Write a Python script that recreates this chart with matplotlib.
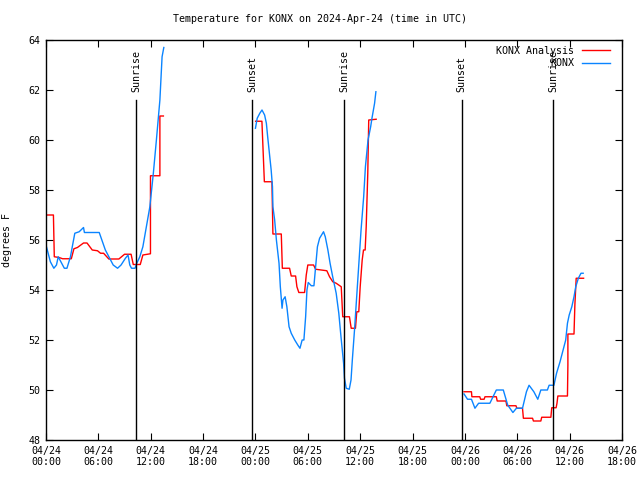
import numpy as np
import matplotlib
matplotlib.use('Agg')
from matplotlib import pyplot as plt

nan = np.nan

# hours since 2024-04-24 00:00 UTC
konx_hours = [0.0, 0.5, 0.9, 1.2, 1.4, 1.7, 2.1, 2.4, 2.8, 3.3, 3.8, 4.3, 4.4, 6.1, 6.5, 6.8,
              7.4, 7.7, 8.2, 8.6, 9.1, 9.4, 9.6, 9.8, 10.2, 10.4, 10.75, 11.1, 11.5, 11.9,
              12.3, 12.65, 13.05, 13.3, 13.5, nan,
              24.0, 24.2, 24.5, 24.75, 25.05, 25.25, 25.4, 25.6, 25.8, 25.95, 26.0, 26.2,
              26.4, 26.7, 26.85, 27.05, 27.15, 27.4, 27.6, 27.85, 28.1, 28.5, 28.85, 29.1,
              29.35, 29.55, 29.75, 29.9, 30.05, 30.4, 30.7, 30.9, 31.1, 31.35, 31.8, 32.0,
              32.3, 32.55, 32.85, 33.25, 33.55, 33.8, 34.1, 34.2, 34.4, 34.75, 34.95, 35.1,
              35.35, 35.6, 35.85, 36.1, 36.4, 36.6, 36.9, 37.2, 37.35, 37.65, 37.8, nan,
              47.9, 48.3, 48.75, 49.15, 49.57, 50.86, 51.6, 52.4, 52.9, 53.5, 53.9, 54.6,
              55.05, 55.35, 55.9, 56.35, 56.7, 57.45, 57.65, 58.2, 58.5, 58.9, 59.25, 59.55,
              59.75, 59.95, 60.25, 60.5, 60.7, 61.0, 61.3, 61.55]
konx_temp = [55.8, 55.13, 54.87, 55.0, 55.33, 55.13, 54.87, 54.87, 55.33, 56.27, 56.33, 56.5,
             56.3, 56.3, 55.9, 55.6, 55.2, 55.0, 54.87, 55.0, 55.27, 55.4, 55.0, 54.87, 54.87,
             55.07, 55.33, 55.73, 56.53, 57.33, 58.67, 60.0, 61.6, 63.33, 63.7, nan,
             60.47, 60.87, 61.07, 61.2, 61.0, 60.67, 60.13, 59.47, 58.8, 58.13, 57.33, 56.8,
             56.0, 55.07, 54.13, 53.27, 53.6, 53.73, 53.33, 52.53, 52.27, 52.0, 51.8, 51.67,
             52.0, 52.0, 52.93, 54.0, 54.3, 54.17, 54.17, 54.93, 55.73, 56.07, 56.33, 56.13,
             55.6, 55.07, 54.53, 53.87, 53.07, 52.13, 51.07, 50.47, 50.07, 50.03, 50.4, 51.2,
             52.4, 53.73, 55.07, 56.4, 57.73, 58.93, 60.0, 60.53, 60.87, 61.47, 61.93, nan,
             49.84, 49.63, 49.63, 49.27, 49.47, 49.47, 50.0, 50.0, 49.4, 49.1, 49.27, 49.27,
             49.93, 50.19, 49.93, 49.63, 50.0, 50.0, 50.19, 50.19, 50.67, 51.13, 51.6, 52.0,
             52.67, 53.0, 53.33, 53.73, 54.13, 54.47, 54.67, 54.67]

anl_hours = [0.0, 0.85, 0.95, 1.5, 1.9, 2.9, 3.2, 3.6, 4.3, 4.7, 5.3, 5.9, 6.25, 6.6, 7.2,
             8.35, 9.0, 9.75, 10.0, 10.8, 11.1, 11.97, 11.97, 13.05, 13.05, 13.45, nan,
             24.02, 24.74, 25.02, 25.89, 26.0, 26.96, 27.08, 27.91, 28.1, 28.6, 28.75, 28.97,
             29.63, 29.82, 30.0, 30.66, 30.89, 32.18, 32.49, 32.86, 33.25, 33.83, 34.0, 34.77,
             34.97, 35.46, 35.61, 35.84, 36.0, 36.23, 36.38, 36.57, 36.69, 36.87, 36.98, 37.83, nan,
             47.9, 48.75, 48.8, 49.7, 49.8, 50.2, 50.3, 51.6, 51.7, 52.7, 52.8, 53.85, 53.95,
             54.6, 54.7, 55.75, 55.85, 56.7, 56.8, 57.85, 57.95, 58.45, 58.55, 58.65, 59.75,
             59.8, 59.8, 60.5, 60.6, 60.75, 61.6]
anl_temp = [57.0, 57.0, 55.33, 55.3, 55.25, 55.25, 55.65, 55.7, 55.88, 55.88, 55.6, 55.57,
            55.47, 55.47, 55.24, 55.24, 55.43, 55.43, 55.02, 55.02, 55.4, 55.45, 58.57, 58.57,
            60.96, 60.96, nan,
            60.75, 60.75, 58.33, 58.33, 56.24, 56.24, 54.87, 54.87, 54.56, 54.56, 54.13, 53.9,
            53.9, 54.6, 55.0, 55.0, 54.83, 54.77, 54.53, 54.33, 54.27, 54.13, 52.93, 52.93,
            52.47, 52.47, 53.13, 53.13, 54.13, 55.2, 55.6, 55.6, 56.53, 58.67, 60.8, 60.83, nan,
            49.93, 49.93, 49.73, 49.73, 49.63, 49.63, 49.73, 49.73, 49.56, 49.56, 49.37, 49.37,
            49.27, 49.27, 48.87, 48.87, 48.76, 48.76, 48.91, 48.91, 49.29, 49.29, 49.47, 49.76,
            49.76, 51.0, 52.24, 52.24, 53.4, 54.47, 54.47]

sun_hours = [10.3, 23.6, 34.2, 47.65, 58.15]
sun_labels = ['Sunrise', 'Sunset', 'Sunrise', 'Sunset', 'Sunrise']

tick_hours = list(range(0, 67, 6))
tick_labels = ['04/24\n00:00', '04/24\n06:00', '04/24\n12:00', '04/24\n18:00',
               '04/25\n00:00', '04/25\n06:00', '04/25\n12:00', '04/25\n18:00',
               '04/26\n00:00', '04/26\n06:00', '04/26\n12:00', '04/26\n18:00']

plt.rcParams['font.family'] = ['DejaVu Sans Mono']
plt.rcParams['font.size'] = 7.2

fig = plt.figure(figsize=(6.4, 4.8), dpi=100)
ax = fig.add_axes([46/640, 40/480, 576/640, 400/480])

ax.plot(anl_hours, anl_temp, color='#ff0000', lw=1.0, label='KONX Analysis')
ax.plot(konx_hours, konx_temp, color='#0a84ff', lw=1.0, label='KONX')

for h, lab in zip(sun_hours, sun_labels):
    ax.plot([h, h], [48, 61.6], color='black', lw=1.0)
    ax.text(h, 61.9, lab, rotation=90, ha='center', va='bottom')

ax.set_xlim(0, 66)
ax.set_ylim(48, 64)
ax.set_xticks(tick_hours)
ax.set_xticklabels(tick_labels)
ax.set_yticks(range(48, 65, 2))
ax.tick_params(direction='in', length=5, top=True, right=True, pad=4)
for s in ax.spines.values():
    s.set_linewidth(1.0)

ax.set_ylabel('degrees F', labelpad=12)
fig.text(0.5, 1 - 19/480, 'Temperature for KONX on 2024-Apr-24 (time in UTC)',
         ha='center', va='center')

ax.legend(loc='upper right', bbox_to_anchor=(1 - 6/576, 1), frameon=False,
          markerfirst=False, handlelength=2.8, borderaxespad=0.2,
          labelspacing=0.25, handletextpad=0.8)

fig.savefig('out.png', dpi=100)
